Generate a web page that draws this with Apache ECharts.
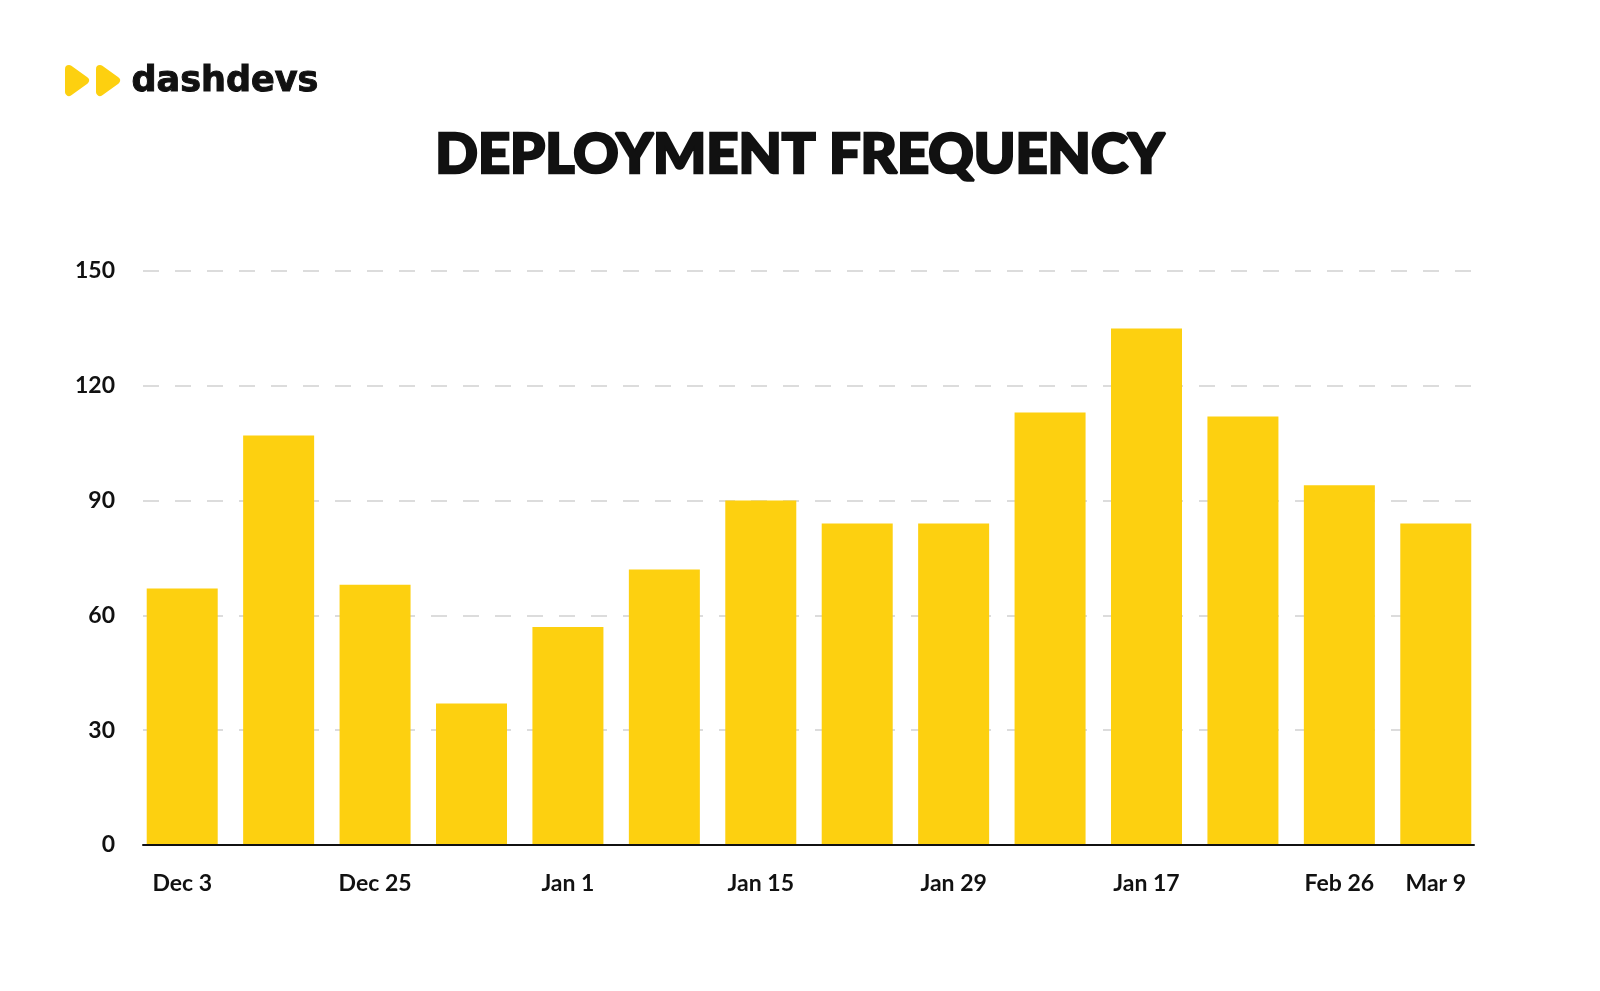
<!DOCTYPE html>
<html>
<head>
<meta charset="utf-8">
<script src="https://cdn.jsdelivr.net/npm/echarts@6/dist/echarts.min.js"></script>
<style>
html,body{margin:0;padding:0;background:#fff;}
#chart{width:1600px;height:991px;}
</style>
</head>
<body>
<div id="chart"></div>
<script>
const categories = ['Dec 3', '', 'Dec 25', '', 'Jan 1', '', 'Jan 15', '', 'Jan 29', '', 'Jan 17', '', 'Feb 26', 'Mar 9'];
const deployments = [67, 107, 68, 37, 57, 72, 90, 84, 84, 113, 135, 112, 94, 84];
const yTicks = [0, 30, 60, 90, 120, 150];

const YELLOW = '#FDD010';
const chart = echarts.init(document.getElementById('chart'));
const labelFont = { fontFamily: 'Lato', fontWeight: 700, fontSize: 23, color: '#111' };

chart.setOption({
  backgroundColor: '#fff',
  animation: false,
  title: {
    text: 'DEPLOYMENT FREQUENCY',
    left: 'center',
    top: 122,
    textStyle: { fontFamily: 'Lato', fontWeight: 900, fontSize: 56, color: '#111',
      textBorderColor: '#111', textBorderWidth: 2.5 }
  },
  graphic: [
    { type: 'polygon', shape: { points: [[69,69],[85,80.5],[69,92]] },
      style: { fill: YELLOW, stroke: YELLOW, lineWidth: 8, lineJoin: 'round' } },
    { type: 'polygon', shape: { points: [[100,69],[116,80.5],[100,92]] },
      style: { fill: YELLOW, stroke: YELLOW, lineWidth: 8, lineJoin: 'round' } },
    { type: 'text', left: 131, top: 64,
      style: { text: 'dashdevs', fontFamily: 'DejaVu Sans', fontWeight: 700, fontSize: 35, fill: '#111',
        stroke: '#111', lineWidth: 1 } }
  ],
  grid: [
    { left: 134, right: 116, top: 271, bottom: 146 },
    { left: 143, right: 126, top: 271, bottom: 146 }
  ],
  xAxis: [
    { type: 'category', gridIndex: 0, data: categories,
      axisLine: { show: false }, axisTick: { show: false },
      axisLabel: Object.assign({ interval: 0, margin: 27 }, labelFont) },
    { type: 'category', gridIndex: 1, data: categories, boundaryGap: false,
      axisLine: { show: true, lineStyle: { color: '#111', width: 2 } },
      axisTick: { show: false }, axisLabel: { show: false }, z: 5 }
  ],
  yAxis: [
    { type: 'value', gridIndex: 0, min: yTicks[0], max: yTicks[yTicks.length-1], interval: 30, show: false, splitLine: { show: false } },
    { type: 'value', gridIndex: 1, min: yTicks[0], max: yTicks[yTicks.length-1], interval: 30,
      axisLine: { show: false }, axisTick: { show: false },
      axisLabel: Object.assign({ margin: 28 }, labelFont),
      splitLine: { show: true, lineStyle: { color: '#dcdcdc', width: 2, type: [16, 16] } } }
  ],
  series: [{
    type: 'bar', xAxisIndex: 0, yAxisIndex: 0,
    data: deployments, barWidth: 71,
    itemStyle: { color: YELLOW }, z: 3
  }]
});
</script>
</body>
</html>
